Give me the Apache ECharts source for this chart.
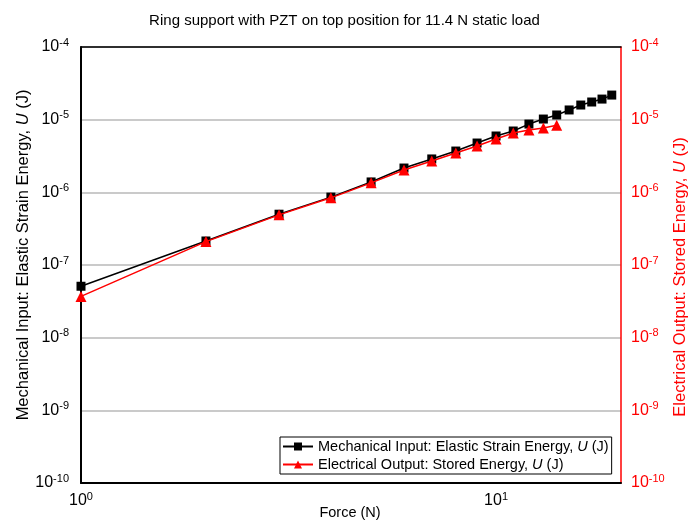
<!DOCTYPE html>
<html>
<head>
<meta charset="utf-8">
<script src="https://cdn.jsdelivr.net/npm/echarts@6/dist/echarts.min.js"></script>
<style>html,body{margin:0;padding:0;background:#fff}#c{width:689px;height:524px}</style>
</head>
<body>
<div id="c"></div>
<script>
var forceN = [1,2,3,4,5,6,7,8,9,10,11,12,13,14,15,16,17,18,19];
var mechanical = [5.1e-8,2.14e-7,5.0e-7,8.6e-7,1.39e-6,2.16e-6,2.88e-6,3.7e-6,4.77e-6,5.96e-6,6.98e-6,8.7e-6,1.02e-5,1.16e-5,1.36e-5,1.59e-5,1.75e-5,1.92e-5,2.18e-5];
var electrical = [3.7e-8,2.1e-7,4.9e-7,8.4e-7,1.35e-6,2.03e-6,2.7e-6,3.48e-6,4.34e-6,5.42e-6,6.56e-6,7.2e-6,7.7e-6,8.4e-6];
var seriesNames = ['Mechanical Input: Elastic Strain Energy, U (J)','Electrical Output: Stored Energy, U (J)'];
var leftName = 'Mechanical Input: Elastic Strain Energy, {i|U} (J)';
var rightName = 'Electrical Output: Stored Energy, {i|U} (J)';
var xName = 'Force (N)';

var FONT = '"Liberation Sans", Arial, sans-serif';
function pw(v){
  var e = Math.round(Math.log(v)/Math.LN10);
  if (Math.abs(Math.pow(10,e)-v) > Math.pow(10,e)*1e-6) return '';
  return '10{s|' + e + '}';
}
function supRichC(c){ return {s:{fontSize:11, verticalAlign:'bottom', padding:[0,0,9,0], fontFamily:FONT, color:c}}; }

var chart = echarts.init(document.getElementById('c'));
chart.setOption({
  animation:false,
  backgroundColor:'#fff',
  title:{text:'Ring support with PZT on top position for 11.4 N static load', left:'center', top:8,
    textStyle:{fontSize:15, fontWeight:'normal', color:'#000', fontFamily:FONT}},
  grid:{left:81, right:68, top:47, bottom:41, containLabel:false, outerBoundsMode:'none'},
  legend:{orient:'vertical', left:280, top:437, itemWidth:30, itemHeight:10, itemGap:3,
    padding:[2,3,2,2], borderColor:'#000', borderWidth:1, backgroundColor:'#fff',
    data:seriesNames,
    formatter:function(n){return n.replace(', U (J)', ', {i|U} (J)');},
    textStyle:{fontSize:14.5, color:'#000', fontFamily:FONT, rich:{i:{fontStyle:'italic', fontSize:14.5, fontFamily:FONT}}}},
  graphic:[
    {type:'text', x:23, y:255, rotation:Math.PI/2, silent:true,
     style:{text:leftName, font:'16.5px ' + FONT, fill:'#000', align:'center', verticalAlign:'middle',
       rich:{i:{fontStyle:'italic', fontSize:16.5, fontFamily:FONT, fill:'#000'}}}},
    {type:'text', x:680, y:277, rotation:Math.PI/2, silent:true,
     style:{text:rightName, font:'16.5px ' + FONT, fill:'#ff0000', align:'center', verticalAlign:'middle',
       rich:{i:{fontStyle:'italic', fontSize:16.5, fontFamily:FONT, fill:'#ff0000'}}}},
    {type:'text', x:350, y:513, silent:true,
     style:{text:xName, font:'14.5px ' + FONT, fill:'#000', align:'center', verticalAlign:'middle'}}
  ],
  xAxis:[{type:'log', logBase:10, min:1, max:20,
    axisLine:{lineStyle:{color:'#000', width:2}}, axisTick:{show:false}, splitLine:{show:false},
    axisLabel:{formatter:pw, fontSize:16, color:'#000', fontFamily:FONT, margin:8, rich:supRichC('#000'), showMaxLabel:false}},
   {type:'log', logBase:10, min:1, max:20, position:'top', axisLine:{lineStyle:{color:'#000', width:1.5}},
    axisTick:{show:false}, axisLabel:{show:false}, splitLine:{show:false}}],
  yAxis:[{type:'log', logBase:10, min:1e-10, max:1e-4, splitNumber:6, position:'left',
    axisLine:{show:true, lineStyle:{color:'#000', width:2}}, axisTick:{show:false},
    splitLine:{show:true, lineStyle:{color:'#b8b8b8', width:1.5}},
    axisLabel:{formatter:pw, fontSize:16, color:'#000', fontFamily:FONT, margin:12, rich:supRichC('#000')}},
   {type:'log', logBase:10, min:1e-10, max:1e-4, splitNumber:6, position:'right',
    axisLine:{show:true, lineStyle:{color:'#ff0000', width:1.5}}, axisTick:{show:false}, splitLine:{show:false},
    axisLabel:{formatter:pw, fontSize:16, color:'#ff0000', fontFamily:FONT, margin:10, rich:supRichC('#ff0000')}}],
  series:[
    {name:seriesNames[0], type:'line', xAxisIndex:0, yAxisIndex:0,
     data:forceN.map(function(f,i){return [f, mechanical[i]];}),
     symbol:'rect', symbolSize:9, lineStyle:{color:'#000', width:1.5}, itemStyle:{color:'#000'}, z:2},
    {name:seriesNames[1], type:'line', xAxisIndex:0, yAxisIndex:1,
     data:electrical.map(function(v,i){return [forceN[i], v];}),
     symbol:'triangle', symbolSize:11, lineStyle:{color:'#ff0000', width:1.5}, itemStyle:{color:'#ff0000'}, z:3}
  ]
});
</script>
</body>
</html>
